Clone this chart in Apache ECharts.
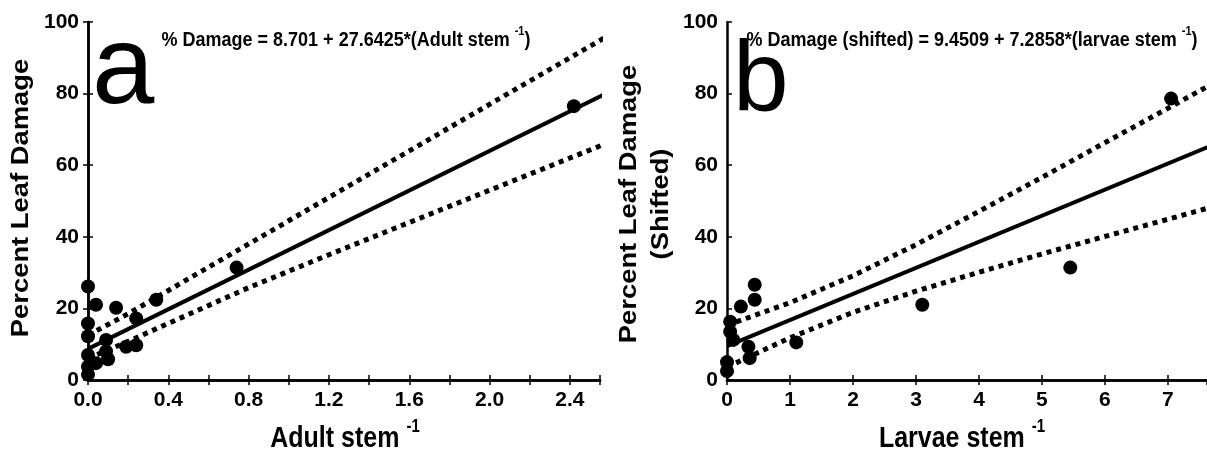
<!DOCTYPE html>
<html>
<head>
<meta charset="utf-8">
<script src="https://cdn.jsdelivr.net/npm/echarts@6/dist/echarts.min.js"></script>
<style>
  html, body { margin: 0; padding: 0; background: #fff; }
  #chart { width: 1207px; height: 451px; }
</style>
</head>
<body>
<div id="chart"></div>
<script>
// panel a: adult stems
var adultX = [0.0, 0.04, 0.14, 0.34, 0.24, 0.0, 0.0, 0.09, 0.09, 0.19, 0.24, 0.10, 0.04, 0.0, 0.0, 0.0, 0.74, 2.42];
var adultY = [26.1, 21.0, 20.2, 22.4, 17.2, 15.8, 12.2, 11.2, 8.0, 9.3, 9.7, 5.8, 4.7, 3.7, 1.5, 7.0, 31.4, 76.5];
var fitAX = [0, 2.6];
var fitAY = [8.70, 80.57];
var bandAX = [0, 0.2, 0.4, 0.8, 1.2, 1.6, 2.0, 2.4, 2.6];
var bandAUp = [12.5, 18.5, 25.0, 38.0, 51.0, 64.0, 77.0, 90.0, 96.5];
var bandALo = [6.0, 10.8, 15.8, 25.8, 35.0, 44.0, 53.0, 62.0, 66.5];

// panel b: larvae stems
var larvaeX = [0.44, 0.44, 0.22, 0.05, 0.05, 0.1, 0.34, 0.36, 0.0, 0.0, 1.1, 3.1, 5.45, 7.05];
var larvaeY = [26.6, 22.4, 20.5, 16.3, 13.5, 11.2, 9.3, 6.1, 5.0, 2.5, 10.5, 21.0, 31.4, 78.6];
var fitBX = [0, 8];
var fitBY = [9.45, 67.74];
var bandBX = [0, 1, 2, 3, 4, 5, 6, 7, 8];
var bandBUp = [15.3, 21.6, 29.1, 37.8, 47.1, 56.6, 66.3, 75.9, 85.6];
var bandBLo = [3.6, 11.8, 18.9, 24.8, 30.1, 35.2, 40.1, 44.9, 49.8];

function pairs(xs, ys) {
    return xs.map(function (x, i) { return [x, ys[i]]; });
}

var FONT = '"Liberation Sans", Arial, sans-serif';
var lbl = { color: '#000', fontFamily: FONT, fontWeight: 'bold', fontSize: 21 };

function xAxes(gi, max, interval, minor) {
    return [
        {
            gridIndex: gi, type: 'value', min: 0, max: max, interval: interval, position: 'bottom',
            axisLine: { lineStyle: { color: '#000', width: 2.5 } },
            axisTick: { inside: true, length: 5, lineStyle: { color: '#000', width: 1.5 } },
            minorTick: { show: minor, splitNumber: 2, length: 5, lineStyle: { color: '#000', width: 1.5 } },
            axisLabel: Object.assign({ margin: 10, showMaxLabel: false, formatter: function (v) {
                return interval < 1 ? v.toFixed(1) : String(v);
            } }, lbl),
            splitLine: { show: false }
        },
        {
            gridIndex: gi, type: 'value', min: 0, max: max, interval: interval, position: 'top',
            axisLine: { lineStyle: { color: '#000', width: 2.5 } },
            axisTick: { inside: true, length: 5, lineStyle: { color: '#000', width: 1.5 } },
            minorTick: { show: minor, splitNumber: 2, length: 5, lineStyle: { color: '#000', width: 1.5 } },
            axisLabel: { show: false },
            splitLine: { show: false }
        }
    ];
}

function yAxes(gi, rightLine) {
    return [
        {
            gridIndex: gi, type: 'value', min: 0, max: 100, interval: 20, position: 'left',
            axisLine: { show: true, lineStyle: { color: '#000', width: 2.5 } },
            axisTick: { show: true, inside: true, length: 5, lineStyle: { color: '#000', width: 1.5 } },
            axisLabel: Object.assign({ margin: 9 }, lbl),
            splitLine: { show: false }
        },
        {
            gridIndex: gi, type: 'value', min: 0, max: 100, interval: 20, position: 'right',
            axisLine: { show: rightLine, lineStyle: { color: '#000', width: 2.5 } },
            axisTick: { show: rightLine, inside: true, length: 5, lineStyle: { color: '#000', width: 1.5 } },
            axisLabel: { show: false },
            splitLine: { show: false }
        }
    ];
}

function lineSeries(xi, yi, xs, ys, dotted) {
    return {
        type: 'line', xAxisIndex: xi, yAxisIndex: yi,
        data: pairs(xs, ys), showSymbol: false, symbol: 'none', silent: true,
        lineStyle: dotted
            ? { color: '#000', width: 5, type: [5, 5], cap: 'butt' }
            : { color: '#000', width: 4 },
        z: 3
    };
}

function scatterSeries(xi, yi, xs, ys) {
    return {
        type: 'scatter', xAxisIndex: xi, yAxisIndex: yi,
        data: pairs(xs, ys), symbolSize: 14,
        itemStyle: { color: '#000', opacity: 1 }, z: 4
    };
}

var supRich = {
    t: { fontFamily: FONT, fontWeight: 'bold', fontSize: 25, color: '#000', lineHeight: 30, verticalAlign: 'bottom' },
    s: { fontFamily: FONT, fontWeight: 'bold', fontSize: 15, color: '#000', lineHeight: 30, verticalAlign: 'top' },
    e: { fontFamily: FONT, fontWeight: 'bold', fontSize: 18, color: '#000', lineHeight: 22, verticalAlign: 'bottom' },
    es: { fontFamily: FONT, fontWeight: 'bold', fontSize: 11, color: '#000', lineHeight: 22, verticalAlign: 'top' }
};

function gText(x, y, text, extra) {
    return Object.assign({
        type: 'text', x: x, y: y, z: 10, scaleY: 1.17,
        style: { text: text, rich: supRich, align: 'center', verticalAlign: 'middle' }
    }, extra || {});
}

var chart = echarts.init(document.getElementById('chart'));
var option = {
    backgroundColor: '#fff',
    animation: false,
    grid: [
        { left: 88, top: 22, width: 512, height: 358 },
        { left: 727, top: 22, right: 0, height: 358 }
    ],
    xAxis: xAxes(0, 2.55, 0.4, true).concat(xAxes(1, 7.62, 1, false)),
    yAxis: yAxes(0, true).concat(yAxes(1, false)),
    series: [
        lineSeries(0, 0, bandAX, bandAUp, true),
        lineSeries(0, 0, bandAX, bandALo, true),
        lineSeries(0, 0, fitAX, fitAY, false),
        scatterSeries(0, 0, adultX, adultY),
        lineSeries(2, 2, bandBX, bandBUp, true),
        lineSeries(2, 2, bandBX, bandBLo, true),
        lineSeries(2, 2, fitBX, fitBY, false),
        scatterSeries(2, 2, larvaeX, larvaeY)
    ],
    graphic: [
        gText(346, 38, '{e|% Damage = 8.701 + 27.6425*(Adult stem }{es|-1}{e|)}'),
        gText(972, 38, '{e|% Damage (shifted) = 9.4509 + 7.2858*(larvae stem }{es|-1}{e|)}'),
        gText(345, 436, '{t|Adult stem }{s|-1}'),
        gText(962, 436, '{t|Larvae stem }{s|-1}'),
        {
            type: 'text', x: 22, y: 198, rotation: Math.PI / 2, scaleX: 1.19, z: 10,
            style: { text: 'Percent Leaf Damage', fill: '#000', font: 'bold 23px ' + FONT, align: 'center', verticalAlign: 'middle' }
        },
        {
            type: 'text', x: 646, y: 204, rotation: Math.PI / 2, scaleX: 1.19, z: 10,
            style: { text: 'Percent Leaf Damage\n(Shifted)', fill: '#000', font: 'bold 23px ' + FONT, align: 'center', verticalAlign: 'middle', lineHeight: 32 }
        },
        {
            type: 'text', x: 92, y: 72, z: 10,
            style: { text: 'a', fill: '#000', font: '112px ' + FONT, align: 'left', verticalAlign: 'middle' }
        },
        {
            type: 'text', x: 733, y: 83, z: 9,
            style: { text: 'b', fill: '#000', font: '100px ' + FONT, align: 'left', verticalAlign: 'middle' }
        }
    ]
};
chart.setOption(option);
</script>
</body>
</html>
